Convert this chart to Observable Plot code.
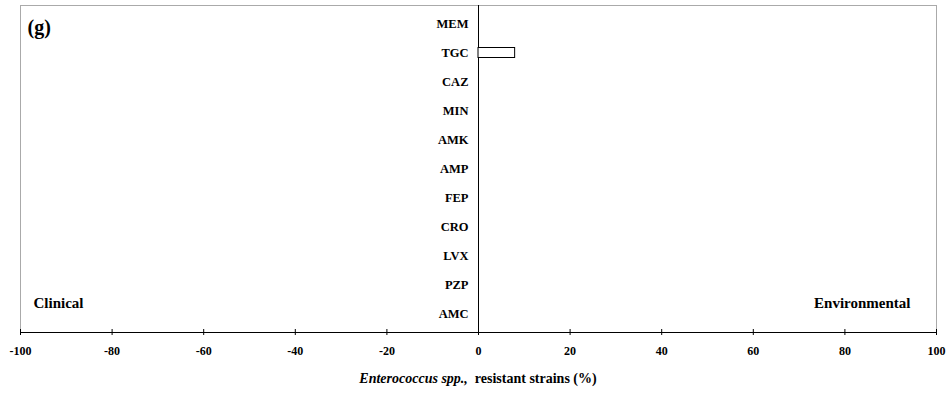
<!DOCTYPE html>
<html>
<head>
<meta charset="utf-8">
<script src="https://cdn.jsdelivr.net/npm/d3@7"></script>
<script src="https://cdn.jsdelivr.net/npm/@observablehq/plot@0.6"></script>
<style>
  html, body { margin: 0; padding: 0; background: #fff; }
  #title { width: 952px; text-align: center; font-family: 'Liberation Serif', 'DejaVu Serif', serif;
           font-weight: bold; font-size: 14px; height: 28px; line-height: 28px; padding-left: 4px; box-sizing: border-box; }
  #chart svg text { font-family: 'Liberation Serif', 'DejaVu Serif', serif; }
</style>
</head>
<body>
<div id="chart"></div>
<div id="title"><i>Enterococcus spp.,</i>&nbsp; resistant strains (%)</div>
<script>
const drugs = ["MEM", "TGC", "CAZ", "MIN", "AMK", "AMP", "FEP", "CRO", "LVX", "PZP", "AMC"];
const environmental = [0, 8, 0, 0, 0, 0, 0, 0, 0, 0, 0];
const clinical = [0, 0, 0, 0, 0, 0, 0, 0, 0, 0, 0];
const xTicks = [-100, -80, -60, -40, -20, 0, 20, 40, 60, 80, 100];
const panelLabel = ["(g)"];
const leftLabel = ["Clinical"];
const rightLabel = ["Environmental"];

const envData = drugs.map((d, i) => ({drug: d, value: environmental[i]})).filter(d => d.value > 0);
const cliData = drugs.map((d, i) => ({drug: d, value: -clinical[i]})).filter(d => d.value < 0);

const font = "Liberation Serif, DejaVu Serif, serif";

const chart = Plot.plot({
  width: 952,
  height: 365,
  marginLeft: 20,
  marginRight: 16,
  marginTop: 5,
  marginBottom: 33,
  style: {fontFamily: font, background: "#fff"},
  x: {domain: [-100, 100], ticks: xTicks},
  y: {domain: drugs, padding: 0, axis: null},
  marks: [
    Plot.frame({stroke: "#aaa"}),
    Plot.frame({stroke: "black", anchor: "bottom"}),
    Plot.ruleX([0], {stroke: "black"}),
    Plot.barX(envData, {x: "value", y: "drug", fill: "white", stroke: "black", insetTop: 9.5, insetBottom: 9.5}),
    Plot.barX(cliData, {x: "value", y: "drug", fill: "white", stroke: "black", insetTop: 9.5, insetBottom: 9.5}),
    Plot.axisX({ticks: xTicks, tickSize: 6, dy: -3, tickPadding: 11, fontSize: 12, fontWeight: "bold", tickFormat: d => String(d), label: null, fill: "black", stroke: "black", fontFamily: font}),
    Plot.text(drugs, {x: 0, y: d => d, dx: -10, textAnchor: "end", fontSize: 12.5, fontWeight: "bold", fill: "black", fontFamily: font}),
    Plot.text(panelLabel, {frameAnchor: "top-left", dx: 7, dy: 14, fontSize: 20, fontWeight: "bold", fill: "black", fontFamily: font}),
    Plot.text(leftLabel, {frameAnchor: "bottom-left", dx: 13, dy: -25, fontSize: 15, fontWeight: "bold", fill: "black", fontFamily: font}),
    Plot.text(rightLabel, {frameAnchor: "bottom-right", dx: -26, dy: -25, fontSize: 15, fontWeight: "bold", fill: "black", fontFamily: font})
  ]
});
document.getElementById("chart").append(chart);
</script>
</body>
</html>
